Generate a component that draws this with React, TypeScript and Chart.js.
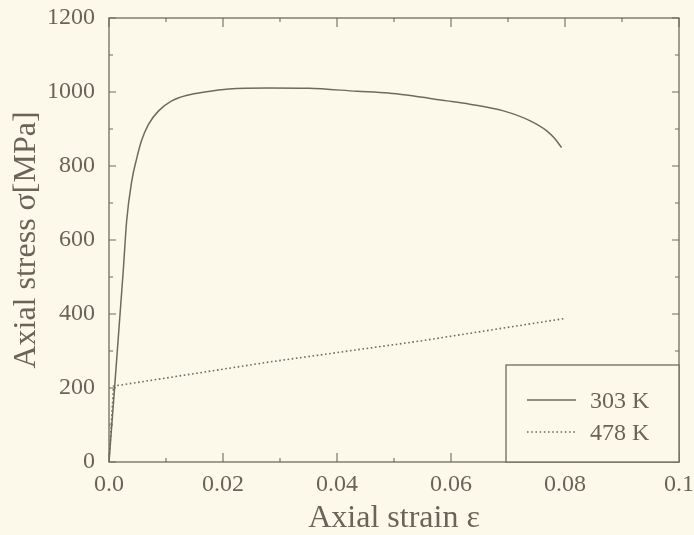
import React, { useEffect, useRef } from "react";
import { Chart, registerables } from "chart.js";

Chart.register(...registerables);

// ---- data ----
const seriesLabels = ["303 K", "478 K"];
const strain303 = [0, 0.0025, 0.0031, 0.004, 0.00485, 0.0057, 0.0069, 0.0087, 0.011, 0.0139, 0.0168, 0.021, 0.028, 0.035, 0.0435, 0.049, 0.0593, 0.0633, 0.0692, 0.0739, 0.0768, 0.0782, 0.0794];
const stress303 = [0, 517, 652, 760, 820, 868, 912, 949, 976, 992, 1000, 1008, 1011, 1010, 1002, 997, 976, 967, 949, 922, 895, 874, 850];
const strain478 = [0, 0.0008, 0.028, 0.0546, 0.08];
const stress478 = [0, 205, 270, 327, 388];
const xTickLabels = ["0.0", "0.02", "0.04", "0.06", "0.08", "0.1"];
const yTickLabels = ["0", "200", "400", "600", "800", "1000", "1200"];
const xTitle = "Axial strain ε";
const yTitle = "Axial stress σ[MPa]";

const BG = "#fcf9eb";
const INK = "#6a6458";
const LINE = "#6f6a5f";
const FONT = "'Liberation Serif', 'DejaVu Serif', serif";

const decorPlugin = {
  id: "decor",
  beforeDraw(chart: any) {
    const { ctx, width, height } = chart;
    ctx.save();
    ctx.fillStyle = BG;
    ctx.fillRect(0, 0, width, height);
    ctx.restore();
  },
  afterDatasetsDraw(chart: any) {
    const { ctx, chartArea: a, scales } = chart;
    const xs = scales.x;
    const ys = scales.y;
    ctx.save();
    ctx.strokeStyle = LINE;
    ctx.lineWidth = 1.3;
    ctx.strokeRect(a.left, a.top, a.right - a.left, a.bottom - a.top);
    ctx.lineWidth = 1.1;
    // x ticks (bottom & top), inward
    for (let i = 0; i <= 10; i++) {
      const v = xs.min + (i * (xs.max - xs.min)) / 10;
      const px = xs.getPixelForValue(v);
      const len = i % 2 === 0 ? 9 : 4;
      ctx.beginPath();
      ctx.moveTo(px, a.bottom);
      ctx.lineTo(px, a.bottom - len);
      ctx.moveTo(px, a.top);
      ctx.lineTo(px, a.top + len);
      ctx.stroke();
    }
    // y ticks (left & right), inward
    for (let i = 0; i <= 12; i++) {
      const v = ys.min + (i * (ys.max - ys.min)) / 12;
      const py = ys.getPixelForValue(v);
      const len = i % 2 === 0 ? 7 : 4;
      ctx.beginPath();
      ctx.moveTo(a.left, py);
      ctx.lineTo(a.left + len, py);
      ctx.moveTo(a.right, py);
      ctx.lineTo(a.right - len, py);
      ctx.stroke();
    }
    // legend box
    const bx = a.right - 173;
    const by = a.bottom - 97;
    ctx.fillStyle = BG;
    ctx.fillRect(bx, by, a.right - bx, a.bottom - by);
    ctx.lineWidth = 1.3;
    ctx.strokeRect(bx, by, a.right - bx, a.bottom - by);
    const ds = chart.data.datasets;
    ds.forEach((d: any, i: number) => {
      const y = by + 35 + i * 32;
      ctx.beginPath();
      ctx.setLineDash(d.borderDash || []);
      ctx.lineWidth = d.borderWidth;
      ctx.strokeStyle = d.borderColor;
      ctx.moveTo(bx + 21, y);
      ctx.lineTo(bx + 70, y);
      ctx.stroke();
      ctx.setLineDash([]);
      ctx.fillStyle = INK;
      ctx.font = `24px ${FONT}`;
      ctx.textBaseline = "middle";
      ctx.textAlign = "left";
      ctx.fillText(d.label, bx + 84, y + 2);
    });
    ctx.restore();
  },
};

export default function App() {
  const ref = useRef<HTMLCanvasElement | null>(null);
  useEffect(() => {
    document.body.style.margin = "0";
    document.body.style.background = BG;
    const canvas = ref.current;
    if (!canvas) return;
    const chart = new Chart(canvas, {
      type: "line",
      data: {
        datasets: [
          {
            label: seriesLabels[0],
            data: strain303.map((x, i) => ({ x, y: stress303[i] })),
            borderColor: LINE,
            borderWidth: 1.5,
            pointRadius: 0,
            cubicInterpolationMode: "monotone",
            fill: false,
          },
          {
            label: seriesLabels[1],
            data: strain478.map((x, i) => ({ x, y: stress478[i] })),
            borderColor: LINE,
            borderWidth: 1.6,
            borderDash: [1.6, 2.6],
            pointRadius: 0,
            tension: 0,
            fill: false,
          },
        ],
      },
      options: {
        animation: false,
        responsive: false,
        layout: { autoPadding: false, padding: { left: 0, top: 18, right: 15, bottom: 0 } } as any,
        plugins: { legend: { display: false }, tooltip: { enabled: false } },
        scales: {
          x: {
            type: "linear",
            min: 0,
            max: 0.1,
            afterFit: (s: any) => {
              s.height = 73;
              s.paddingLeft = 0;
              s.paddingRight = 0;
            },
            afterBuildTicks: (s: any) => {
              s.ticks = xTickLabels.map((_, i) => ({ value: (i * 0.1) / (xTickLabels.length - 1) }));
            },
            ticks: {
              color: INK,
              font: { family: FONT, size: 24 },
              padding: 8,
              maxRotation: 0,
              autoSkip: false,
              callback: (_v: any, i: number) => xTickLabels[i],
            },
            grid: { display: false, drawTicks: false },
            border: { display: false },
            title: {
              display: true,
              text: xTitle,
              color: INK,
              font: { family: FONT, size: 32, lineHeight: 1 },
              padding: { top: 0, bottom: 0 },
            },
          },
          y: {
            type: "linear",
            min: 0,
            max: 1200,
            afterFit: (s: any) => {
              s.width = 109;
              s.paddingTop = 0;
              s.paddingBottom = 0;
            },
            afterBuildTicks: (s: any) => {
              s.ticks = yTickLabels.map((t) => ({ value: Number(t) }));
            },
            ticks: {
              color: INK,
              font: { family: FONT, size: 24 },
              padding: 14,
              autoSkip: false,
              callback: (_v: any, i: number) => yTickLabels[i],
            },
            grid: { display: false, drawTicks: false },
            border: { display: false },
            title: {
              display: true,
              text: yTitle,
              color: INK,
              font: { family: FONT, size: 32, lineHeight: 1 },
              padding: { top: 11, bottom: 0 },
            },
          },
        },
      },
      plugins: [decorPlugin],
    } as any);
    return () => chart.destroy();
  }, []);
  return (
    <canvas
      ref={ref}
      width={694}
      height={535}
      style={{ position: "absolute", left: 0, top: 0, display: "block", width: 694, height: 535 }}
    />
  );
}
